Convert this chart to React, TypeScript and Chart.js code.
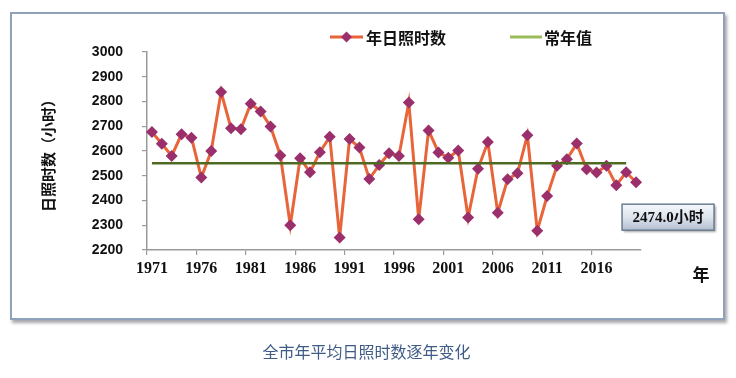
import React, { useEffect, useRef } from "react";
import { Chart, registerables } from "chart.js";

Chart.register(...registerables);

const years: string[] = [
  "1971","1972","1973","1974","1975","1976","1977","1978","1979","1980",
  "1981","1982","1983","1984","1985","1986","1987","1988","1989","1990",
  "1991","1992","1993","1994","1995","1996","1997","1998","1999","2000",
  "2001","2002","2003","2004","2005","2006","2007","2008","2009","2010",
  "2011","2012","2013","2014","2015","2016","2017","2018","2019","2020",
];

const sunshineHours: number[] = [
  2677, 2629, 2580, 2668, 2654, 2493, 2600, 2838, 2692, 2688,
  2791, 2760, 2699, 2582, 2300, 2571, 2514, 2595, 2658, 2251,
  2648, 2614, 2487, 2543, 2591, 2580, 2796, 2324, 2683, 2594,
  2573, 2602, 2331, 2528, 2636, 2351, 2486, 2510, 2664, 2278,
  2418, 2540, 2567, 2630, 2526, 2513, 2540, 2462, 2514, 2474.0,
];

const normalValue = 2551;
const normalSpanYears = 49; // 1971-2019
const normalLine: (number | null)[] = years.map((_, i) => (i < normalSpanYears ? normalValue : null));

const yTickMin = 2200;
const yTickMax = 3000;
const yTickStep = 100;

const seriesName = "年日照时数";
const normalName = "常年值";
const yTitle = "日照时数（小时）";
const xTitle = "年";
const caption = "全市年平均日照时数逐年变化";
const unit = "小时";

const LINE_COLOR = "#E8653A";
const MARKER_COLOR = "#9A2F6C";
const NORMAL_COLOR = "#4E6A22";
const NORMAL_LEGEND = "#9BBB59";
const AXIS_COLOR = "#9a9a9a";

const CJK = '"Noto Sans CJK SC", "Noto Sans", sans-serif';

const overlay = {
  id: "overlay",
  afterDraw(chart: any) {
    const ctx = chart.ctx as CanvasRenderingContext2D;
    ctx.save();
    // Legend
    const ly = 37;
    ctx.strokeStyle = LINE_COLOR;
    ctx.lineWidth = 3;
    ctx.beginPath();
    ctx.moveTo(330, ly);
    ctx.lineTo(363, ly);
    ctx.stroke();
    ctx.fillStyle = MARKER_COLOR;
    ctx.beginPath();
    ctx.moveTo(346.5, ly - 5.5);
    ctx.lineTo(352, ly);
    ctx.lineTo(346.5, ly + 5.5);
    ctx.lineTo(341, ly);
    ctx.closePath();
    ctx.fill();
    ctx.fillStyle = "#111";
    ctx.font = `bold 16px ${CJK}`;
    ctx.textBaseline = "middle";
    ctx.textAlign = "left";
    ctx.fillText(seriesName, 366, ly + 1);
    ctx.strokeStyle = NORMAL_LEGEND;
    ctx.beginPath();
    ctx.moveTo(510, ly);
    ctx.lineTo(542, ly);
    ctx.stroke();
    ctx.fillText(normalName, 544, ly + 1);

    // Y title
    ctx.save();
    ctx.translate(48, 152);
    ctx.rotate(-Math.PI / 2);
    ctx.textAlign = "center";
    ctx.font = `bold 15px ${CJK}`;
    ctx.fillText(yTitle, 0, 0);
    ctx.restore();

    // X title
    ctx.textAlign = "center";
    ctx.font = `bold 17px ${CJK}`;
    ctx.fillText(xTitle, 701, 275);

    // Last value box
    const meta = chart.getDatasetMeta(1);
    const last = meta.data[meta.data.length - 1];
    if (last) {
      const bx = last.x - 14;
      const by = last.y + 22;
      const bw = 92;
      const bh = 26;
      ctx.save();
      ctx.shadowColor = "rgba(0,0,0,0.35)";
      ctx.shadowOffsetX = 2;
      ctx.shadowOffsetY = 2;
      ctx.shadowBlur = 2;
      const g = ctx.createLinearGradient(0, by, 0, by + bh);
      g.addColorStop(0, "#f5f8fc");
      g.addColorStop(0.5, "#dde4ee");
      g.addColorStop(1, "#b3bfd0");
      ctx.fillStyle = g;
      ctx.fillRect(bx, by, bw, bh);
      ctx.restore();
      ctx.strokeStyle = "#6c7c92";
      ctx.lineWidth = 1.5;
      ctx.strokeRect(bx, by, bw, bh);
      ctx.fillStyle = "#111";
      ctx.font = `bold 15px "Liberation Serif", "Noto Sans CJK SC", serif`;
      ctx.textAlign = "center";
      ctx.textBaseline = "middle";
      const v = sunshineHours[sunshineHours.length - 1];
      ctx.fillText(v.toFixed(1) + unit, bx + bw / 2, by + bh / 2 + 1);
    }
    ctx.restore();
  },
};

export default function App() {
  const ref = useRef<HTMLCanvasElement | null>(null);

  useEffect(() => {
    if (!ref.current) return;
    const chart = new Chart(ref.current, {
      type: "line",
      data: {
        labels: years,
        datasets: [
          {
            label: normalName,
            data: normalLine,
            borderColor: NORMAL_COLOR,
            backgroundColor: NORMAL_COLOR,
            borderWidth: 2.5,
            pointRadius: 0,
            order: 0,
          },
          {
            label: seriesName,
            data: sunshineHours,
            borderColor: LINE_COLOR,
            backgroundColor: MARKER_COLOR,
            borderWidth: 3,
            pointStyle: "rectRot",
            pointRadius: 6,
            pointBackgroundColor: MARKER_COLOR,
            pointBorderColor: MARKER_COLOR,
            pointBorderWidth: 0,
            tension: 0,
            order: 1,
          },
        ],
      },
      options: {
        animation: false,
        responsive: false,
        layout: { padding: { left: 0, top: 52, right: 95, bottom: 0 } },
        plugins: {
          legend: { display: false },
          tooltip: { enabled: false },
        },
        scales: {
          x: {
            type: "category",
            offset: true,
            grid: {
              offset: true,
              drawOnChartArea: false,
              drawTicks: true,
              tickLength: 5,
              lineWidth: 1.2,
              color: (c: any) => (c.index % 5 === 0 ? AXIS_COLOR : "rgba(0,0,0,0)"),
            },
            border: { display: true, color: AXIS_COLOR, width: 1.5 },
            ticks: {
              autoSkip: false,
              maxRotation: 0,
              minRotation: 0,
              padding: 4,
              color: "#111",
              font: { family: '"Liberation Serif", "Times New Roman", serif', size: 16, weight: "bold" },
              callback: (_v: any, i: number) => (i % 5 === 0 ? years[i] : ""),
            },
            afterFit: (s: any) => {
              s.height = 128;
            },
          },
          y: {
            min: yTickMin,
            max: yTickMax,
            grid: {
              drawOnChartArea: false,
              drawTicks: true,
              tickLength: 5,
              color: AXIS_COLOR,
              lineWidth: 1.2,
            },
            border: { display: true, color: AXIS_COLOR, width: 1.5 },
            ticks: {
              stepSize: yTickStep,
              padding: 19,
              color: "#111",
              font: { family: '"Liberation Sans", Arial, sans-serif', size: 14, weight: "bold" },
              callback: (v: any) => String(v),
            },
            afterFit: (s: any) => {
              s.width = 147;
            },
          },
        },
      },
      plugins: [overlay],
    });
    return () => chart.destroy();
  }, []);

  return (
    <div style={{ position: "absolute", left: 0, top: 0, width: 736, height: 378, background: "#fff" }}>
      <div
        style={{
          position: "absolute",
          left: 10,
          top: 12,
          width: 711,
          height: 304,
          border: "2px solid #8fa2ba",
          boxShadow: "2px 3px 3px rgba(60,60,70,0.45)",
          background: "#fff",
        }}
      />
      <canvas ref={ref} width={736} height={378} style={{ position: "absolute", left: 0, top: 0 }} />
      <div
        style={{
          position: "absolute",
          left: 0,
          top: 340,
          width: 733,
          textAlign: "center",
          fontFamily: CJK,
          fontSize: 16,
          color: "#3f5c86",
          lineHeight: "22px",
        }}
      >
        {caption}
      </div>
    </div>
  );
}
